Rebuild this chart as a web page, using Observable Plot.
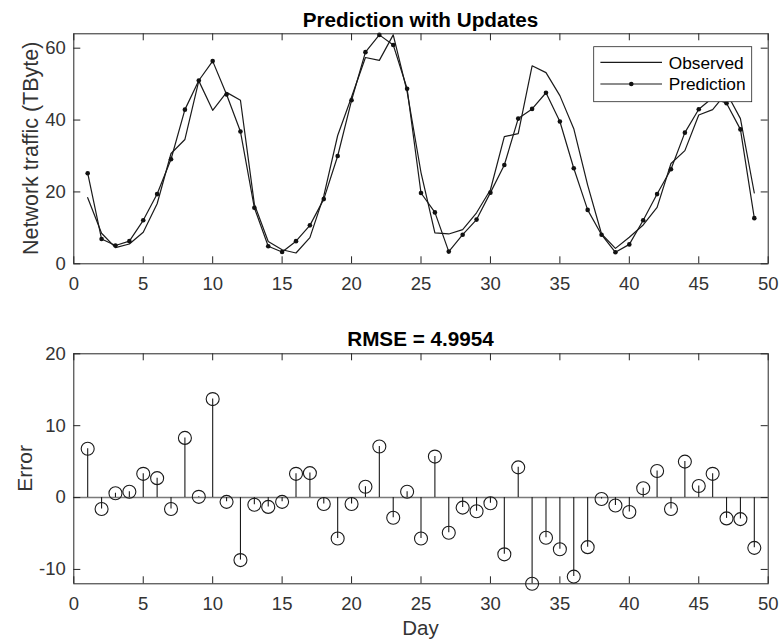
<!DOCTYPE html>
<html>
<head>
<meta charset="utf-8">
<script src="https://cdn.jsdelivr.net/npm/d3@7"></script>
<script src="https://cdn.jsdelivr.net/npm/@observablehq/plot@0.6"></script>
<style>
  html, body { margin: 0; padding: 0; background: #fff; }
  #chart svg { display: block; }
</style>
</head>
<body>
<div id="chart"></div>
<script>
// ---- data ----
const days = d3.range(1, 50);
const observed = [18.4, 8.5, 4.5, 5.5, 8.8, 16.7, 30.7, 34.6, 50.9, 42.7, 47.7, 45.5, 16.6, 6.2, 3.9, 3.0, 7.3, 18.9, 35.7, 46.4, 57.4, 56.6, 63.7, 47.9, 25.4, 8.6, 8.3, 9.5, 14.2, 20.6, 35.4, 36.2, 55.1, 53.2, 46.8, 37.6, 21.9, 8.3, 4.3, 7.4, 10.8, 15.7, 27.9, 31.5, 41.4, 42.9, 47.6, 40.4, 19.7];
const prediction = [25.2, 6.9, 5.1, 6.3, 12.1, 19.4, 29.1, 42.9, 51.0, 56.4, 47.1, 36.8, 15.6, 4.9, 3.3, 6.3, 10.7, 18.0, 30.0, 45.5, 58.9, 63.7, 60.9, 48.7, 19.7, 14.3, 3.4, 8.1, 12.3, 19.8, 27.5, 40.4, 43.1, 47.6, 39.6, 26.6, 15.0, 8.1, 3.2, 5.4, 12.1, 19.4, 26.3, 36.5, 43.0, 46.2, 44.7, 37.4, 12.7];
const errorVals = [6.8, -1.6, 0.6, 0.8, 3.3, 2.7, -1.6, 8.3, 0.1, 13.7, -0.6, -8.7, -1.0, -1.3, -0.6, 3.3, 3.4, -0.9, -5.7, -0.9, 1.5, 7.1, -2.8, 0.8, -5.7, 5.7, -4.9, -1.4, -1.9, -0.8, -7.9, 4.2, -12.0, -5.6, -7.2, -11.0, -6.9, -0.2, -1.1, -2.0, 1.3, 3.7, -1.6, 5.0, 1.6, 3.3, -2.9, -3.0, -7.0];
const xTicks = [0, 5, 10, 15, 20, 25, 30, 35, 40, 45, 50];
const yTicksTop = [0, 20, 40, 60];
const yTicksBottom = [-10, 0, 10, 20];
const titleTop = "Prediction with Updates";
const titleBottom = "RMSE = 4.9954";
const yLabelTop = "Network traffic (TByte)";
const yLabelBottom = "Error";
const xLabelBottom = "Day";
const seriesNames = ["Observed", "Prediction"];

const rows = days.map((d, i) => ({day: d, observed: observed[i], prediction: prediction[i], error: errorVals[i]}));

// ---- layout ----
const W = 779;
const ML = 73.3, MR = 11.3, MT = 33.3;
const innerW = W - ML - MR;
const INK = "#262626";
const TICKINK = "#333333";
const FONT = "'Liberation Sans', Arial, Helvetica, sans-serif";

function inwardTicks(yt, innerH) {
  return [
    Plot.tickX(xTicks, {x: d => d, insetTop: innerH - 7, stroke: INK}),
    Plot.tickX(xTicks, {x: d => d, insetBottom: innerH - 7, stroke: INK}),
    Plot.tickY(yt, {y: d => d, insetRight: innerW - 7, stroke: INK}),
    Plot.tickY(yt, {y: d => d, insetLeft: innerW - 7, stroke: INK})
  ];
}

const styleObj = {fontFamily: FONT, fontSize: "18.5px", color: TICKINK, background: "white", overflow: "visible"};

// ---- top panel ----
const H1 = 320, MB1 = 56.7;
const innerH1 = H1 - MT - MB1;
const topSvg = Plot.plot({
  width: W, height: H1,
  marginTop: MT, marginBottom: MB1, marginLeft: ML, marginRight: MR,
  style: styleObj,
  x: {domain: [0, 50], ticks: xTicks, tickSize: 0, tickPadding: 13, label: null, tickFormat: d => String(d)},
  y: {domain: [0, 64], ticks: yTicksTop, tickSize: 0, tickPadding: 8, label: null, tickFormat: d => String(d)},
  marks: [
    Plot.line(rows, {x: "day", y: "observed", stroke: "#1a1a1a", strokeWidth: 1.2}),
    Plot.line(rows, {x: "day", y: "prediction", stroke: "#1a1a1a", strokeWidth: 1.2}),
    Plot.dot(rows, {x: "day", y: "prediction", r: 2.3, fill: "#111", stroke: "none"}),
    ...inwardTicks(yTicksTop, innerH1),
    Plot.frame({stroke: INK})
  ]
});

// ---- bottom panel ----
const H2 = 322, MB2 = 58.7;
const innerH2 = H2 - MT - MB2;
const bottomSvg = Plot.plot({
  width: W, height: H2,
  marginTop: MT, marginBottom: MB2, marginLeft: ML, marginRight: MR,
  style: styleObj,
  x: {domain: [0, 50], ticks: xTicks, tickSize: 0, tickPadding: 13, label: null, tickFormat: d => String(d)},
  y: {domain: [-12, 20], ticks: yTicksBottom, tickSize: 0, tickPadding: 8, label: null, tickFormat: d => String(d)},
  marks: [
    Plot.ruleY([0], {stroke: "#7a7a7a", strokeWidth: 1.5}),
    Plot.ruleX(rows, {x: "day", y1: d => 0, y2: "error", stroke: "#1a1a1a", strokeWidth: 1.1}),
    Plot.dot(rows, {x: "day", y: "error", r: 6.5, fill: "none", stroke: "#1a1a1a", strokeWidth: 1.1}),
    ...inwardTicks(yTicksBottom, innerH2),
    Plot.frame({stroke: INK})
  ]
});

const chart = document.getElementById("chart");
chart.appendChild(topSvg);
chart.appendChild(bottomSvg);

// ---- titles, labels, legend ----
const cx = ML + innerW / 2;
function addText(svg, txt, x, y, opts = {}) {
  const t = d3.select(svg).append("text")
    .attr("x", x).attr("y", y)
    .attr("text-anchor", opts.anchor || "middle")
    .attr("fill", opts.fill || TICKINK)
    .style("font-family", FONT)
    .style("font-size", (opts.size || 20) + "px")
    .style("font-weight", opts.weight || "normal")
    .text(txt);
  if (opts.rotate) t.attr("transform", `rotate(-90, ${x}, ${y})`);
  return t;
}
addText(topSvg, titleTop, cx, 26.5, {weight: "bold", fill: "#000", size: 20.7});
addText(topSvg, yLabelTop, 37.8, MT + innerH1 / 2, {rotate: true, size: 21.5});
addText(bottomSvg, titleBottom, cx, 26.3, {weight: "bold", fill: "#000", size: 20.7});
addText(bottomSvg, yLabelBottom, 31.8, MT + innerH2 / 2, {rotate: true, size: 21});
addText(bottomSvg, xLabelBottom, cx, 315, {size: 20.5});

// legend (top panel, upper right)
const lg = d3.select(topSvg).append("g");
const lgW = 158, lgH = 55;
const lgX = W - MR - 16 - lgW, lgY = MT + 13.4;
lg.append("rect").attr("x", lgX).attr("y", lgY).attr("width", lgW).attr("height", lgH)
  .attr("fill", "white").attr("stroke", INK).attr("stroke-width", 0.8);
const rowsY = [lgY + 15.6, lgY + 37.3];
seriesNames.forEach((name, i) => {
  lg.append("line").attr("x1", lgX + 6.7).attr("x2", lgX + 68.3)
    .attr("y1", rowsY[i]).attr("y2", rowsY[i]).attr("stroke", "#1a1a1a").attr("stroke-width", 1.2);
  if (i === 1) lg.append("circle").attr("cx", lgX + 37.6).attr("cy", rowsY[i]).attr("r", 2.3).attr("fill", "#111");
  addText(topSvg, name, lgX + 75, rowsY[i] + 6.2, {anchor: "start", size: 17.3, fill: "#000"});
});
</script>
</body>
</html>
